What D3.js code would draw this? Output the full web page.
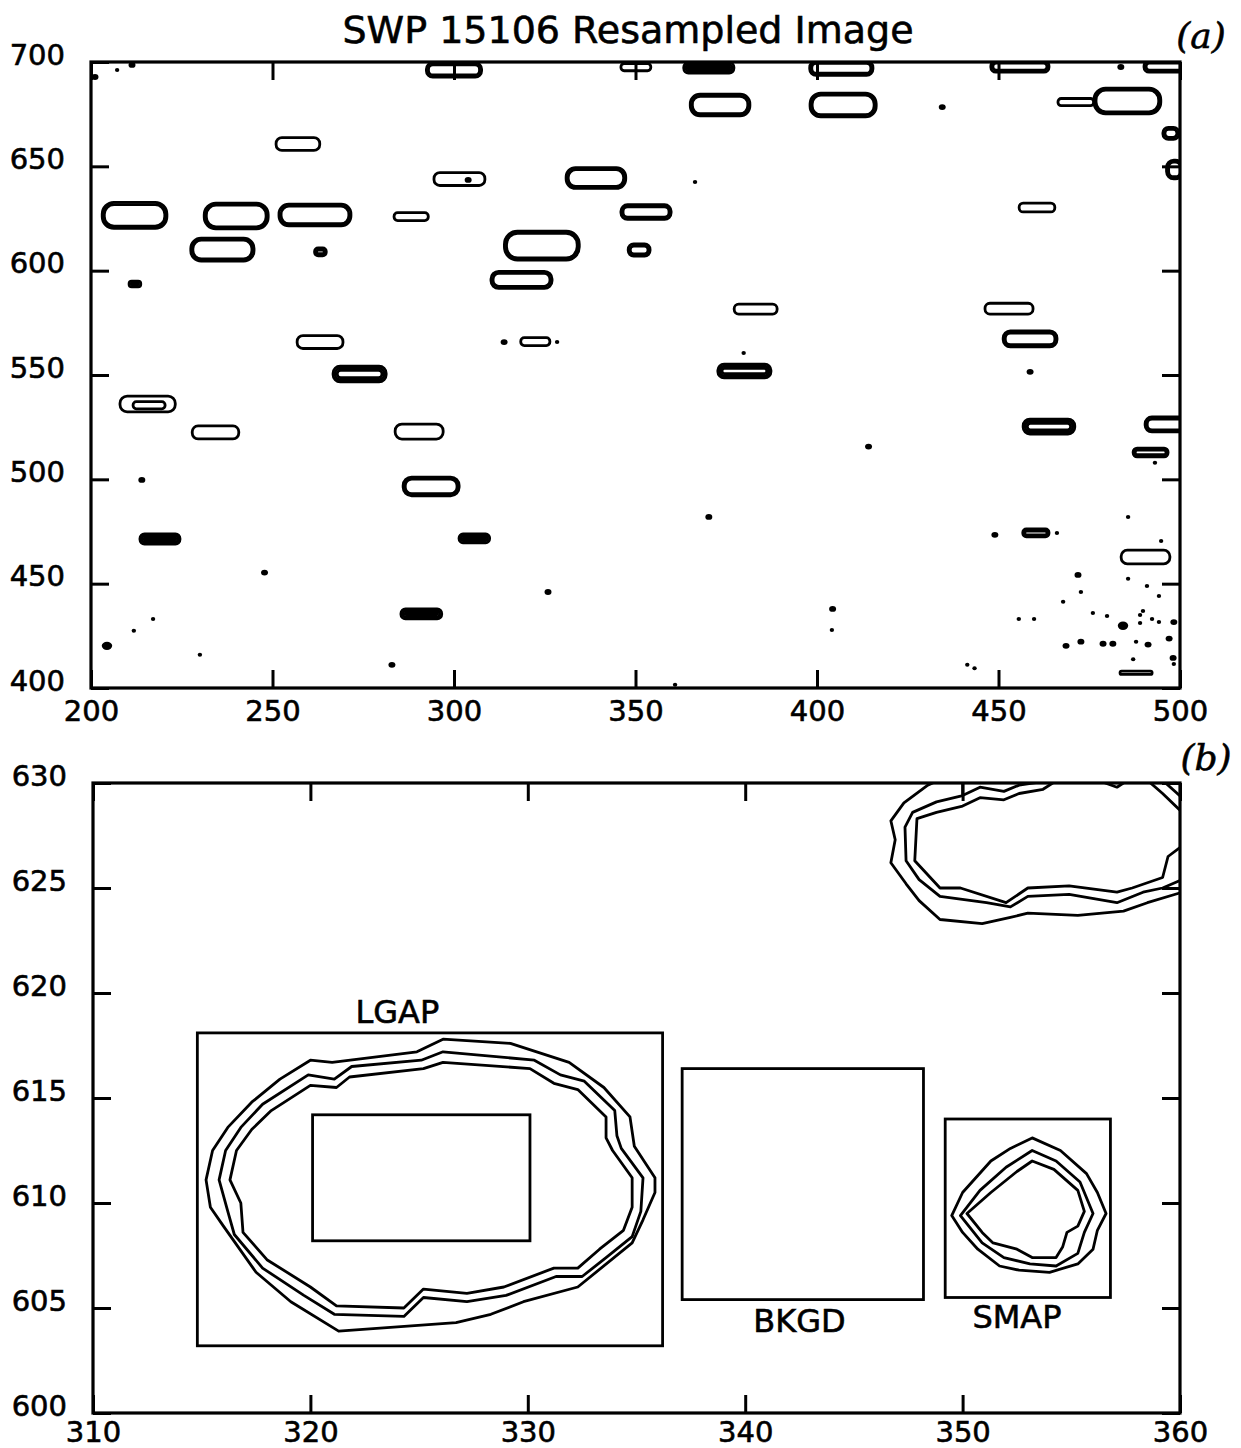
<!DOCTYPE html>
<html>
<head>
<meta charset="utf-8">
<script src="https://cdn.jsdelivr.net/npm/d3@7"></script>
<style>
  body { margin: 0; background: #fff; }
  svg text { font-family: "DejaVu Sans", sans-serif; fill: #000; stroke: #000; stroke-width: 0.6px; }
</style>
</head>
<body>
<svg id="chart" width="1241" height="1448"></svg>
<script>
// ---------- panel (a): resampled image, contour blobs ----------
const titleA = "SWP 15106 Resampled Image";
const xTicksA = [200, 250, 300, 350, 400, 450, 500];
const yTicksA = [400, 450, 500, 550, 600, 650, 700];

// [x, y, half-width, half-height, nested contour levels]
const rings = [
  [300.0, 696.2, 7.9, 3.9, 2], [350.1, 697.5, 4.4, 2.2, 1], [370.2, 697.2, 7.2, 3.0, 3],
  [406.7, 697.0, 9.0, 3.9, 2], [455.9, 697.8, 8.3, 3.2, 2], [497.5, 697.8, 7.7, 3.2, 2],
  [373.3, 679.4, 8.5, 5.7, 2], [407.2, 679.4, 9.4, 6.2, 2], [485.5, 681.3, 9.5, 6.7, 2],
  [471.3, 680.8, 5.2, 2.2, 1], [497.5, 665.8, 2.5, 3.4, 2], [498.5, 648.5, 2.5, 5.0, 2],
  [257.0, 660.7, 6.3, 3.6, 1], [301.5, 643.9, 7.3, 3.6, 1], [339.1, 644.4, 8.5, 5.5, 2],
  [212.0, 626.5, 9.2, 6.7, 2], [240.0, 626.2, 9.1, 6.7, 2], [261.7, 626.7, 10.2, 5.7, 2],
  [288.2, 625.9, 5.0, 2.4, 1], [352.9, 628.1, 7.2, 4.0, 2], [460.6, 630.3, 5.2, 2.6, 1],
  [236.2, 610.1, 9.0, 6.0, 2], [263.2, 609.0, 1.9, 2.4, 2], [324.2, 612.0, 10.6, 7.4, 2],
  [351.0, 609.9, 3.3, 3.4, 2], [212.1, 593.6, 1.9, 1.9, 2], [318.6, 595.6, 8.7, 4.6, 2],
  [383.1, 581.6, 6.2, 2.9, 1], [452.9, 581.8, 6.9, 3.1, 1], [263.1, 565.8, 6.6, 3.6, 1],
  [322.4, 566.0, 4.3, 2.4, 1], [458.7, 567.3, 7.7, 4.3, 2], [274.0, 550.5, 7.6, 4.3, 3],
  [380.0, 551.9, 7.6, 3.8, 3], [215.6, 536.1, 7.9, 4.3, 1], [216.0, 535.5, 4.7, 2.2, 1],
  [234.3, 522.5, 6.7, 3.6, 1], [290.4, 522.9, 6.9, 4.1, 1], [463.9, 525.3, 7.4, 4.1, 3],
  [496.7, 526.3, 6.6, 4.1, 2], [491.9, 512.9, 5.1, 2.6, 2], [293.7, 496.6, 8.0, 5.0, 2],
  [219.0, 471.4, 5.8, 2.9, 3], [305.6, 471.7, 4.5, 2.6, 3], [460.3, 474.3, 3.9, 2.4, 3],
  [490.5, 462.8, 7.0, 3.8, 1], [291.0, 435.5, 5.9, 2.9, 3], [487.9, 407.3, 4.7, 1.3, 3]
];

// [x, y, size class]
const dots = [
  [201.1, 692.8, 2], [207.2, 696.2, 1], [211.3, 698.6, 2], [483.7, 697.6, 2],
  [434.5, 678.4, 2], [366.4, 642.5, 1], [303.9, 643.5, 2], [313.8, 565.8, 2],
  [328.4, 565.8, 1], [379.8, 560.6, 1], [458.7, 551.5, 2], [414.2, 515.7, 2],
  [493.1, 507.9, 1], [214.0, 499.7, 2], [370.2, 482.0, 2], [449.0, 473.4, 2],
  [466.1, 474.3, 1], [247.8, 455.3, 2], [325.9, 446.0, 2], [404.3, 437.9, 2],
  [404.1, 427.8, 1], [204.4, 420.2, 3], [217.1, 433.1, 1], [211.8, 427.4, 1],
  [230.0, 415.9, 1], [282.9, 411.1, 2], [360.9, 401.5, 1], [441.4, 411.1, 1],
  [443.4, 409.5, 1], [471.9, 454.2, 2], [472.7, 446.0, 1], [467.8, 441.3, 1],
  [485.7, 482.0, 1], [494.8, 470.5, 1], [485.7, 452.3, 1], [490.9, 448.9, 1],
  [494.2, 444.1, 1], [476.0, 436.0, 1], [479.9, 434.5, 1], [455.6, 433.1, 1],
  [459.8, 433.1, 1], [489.8, 436.9, 1], [489.0, 435.0, 1], [484.3, 429.8, 3],
  [489.0, 431.2, 1], [492.3, 433.1, 1], [494.2, 431.6, 1], [498.3, 431.6, 2],
  [468.6, 420.2, 2], [472.7, 422.2, 2], [478.8, 421.2, 2], [481.5, 421.2, 2],
  [487.9, 422.2, 1], [491.2, 420.8, 2], [497.0, 423.7, 2], [487.1, 413.8, 1],
  [498.1, 414.4, 2], [498.3, 411.5, 1]
];

// ---------- panel (b): zoom on the apertures ----------
const xTicksB = [310, 320, 330, 340, 350, 360];
const yTicksB = [600, 605, 610, 615, 620, 625, 630];

// [x0, y0, x1, y1]: large aperture, its core, background, small aperture
const boxes = [
  [314.8, 603.2, 336.2, 618.1],
  [320.1, 608.2, 330.1, 614.2],
  [337.1, 605.4, 348.2, 616.4],
  [349.2, 605.5, 356.8, 614.0]
];
const labelNames = ["LGAP", "BKGD", "SMAP"];
const labelPos = [[324.0, 619.1], [342.5, 604.4], [352.5, 604.6]];

const lgapContours = [
  [[315.2, 611.1], [315.4, 609.8], [316.0, 608.9], [317.5, 606.7], [319.1, 605.3], [321.3, 603.9],
   [326.7, 604.3], [328.3, 604.7], [329.8, 605.3], [332.3, 606.0], [334.8, 608.1], [335.3, 609.2],
   [335.85, 610.5], [335.85, 611.2], [334.9, 612.7], [334.7, 614.1], [333.5, 615.5], [331.9, 616.7],
   [329.2, 617.6], [326.1, 617.8], [324.9, 617.2], [321.0, 616.7], [320.0, 616.8], [318.6, 615.9],
   [317.3, 614.8], [316.2, 613.6], [315.5, 612.5]],
  [[315.8, 611.1], [316.2, 609.6], [316.5, 608.5], [317.8, 606.9], [319.7, 605.6], [321.1, 604.7],
   [324.3, 604.6], [325.2, 605.5], [327.2, 605.3], [329.0, 605.6], [331.3, 606.5], [332.5, 606.5],
   [333.6, 607.4], [334.8, 608.4], [335.2, 609.6], [335.3, 611.2], [334.3, 612.6], [334.1, 613.2],
   [334.0, 614.4], [332.6, 615.8], [331.5, 616.1], [330.3, 616.8], [326.1, 617.2], [325.1, 616.8],
   [321.9, 616.5], [321.1, 615.9], [319.9, 616.1], [317.8, 614.7], [316.8, 613.6], [316.1, 612.5]],
  [[316.3, 611.1], [316.8, 610.0], [316.9, 608.6], [318.0, 607.3], [320.0, 606.0], [321.2, 605.1],
   [324.3, 605.0], [325.2, 605.9], [327.2, 605.7], [328.9, 606.0], [331.2, 606.9], [332.3, 606.9],
   [333.3, 607.8], [334.4, 608.7], [334.8, 609.8], [334.8, 611.2], [333.9, 612.5], [333.6, 613.1],
   [333.6, 614.1], [332.3, 615.4], [331.2, 615.7], [330.1, 616.4], [326.1, 616.7], [325.2, 616.4],
   [321.8, 616.0], [321.2, 615.5], [320.0, 615.6], [318.2, 614.4], [317.3, 613.5], [316.6, 612.5]]
];

const smapContours = [
  [[353.2, 613.1], [354.5, 612.5], [355.7, 611.4], [356.2, 610.5], [356.6, 609.5], [356.2, 608.7],
   [356.0, 607.8], [355.3, 607.1], [354.0, 606.7], [352.6, 606.8], [351.7, 607.0], [350.7, 607.8],
   [350.0, 608.6], [349.5, 609.4], [350.0, 610.5], [351.3, 612.0], [352.2, 612.6]],
  [[353.2, 612.5], [354.3, 612.0], [355.4, 611.0], [356.0, 609.5], [355.6, 608.6], [355.3, 607.6],
   [354.3, 607.0], [353.1, 607.1], [351.9, 607.4], [350.9, 608.1], [349.9, 609.4], [350.8, 610.6],
   [352.0, 611.7]],
  [[353.2, 612.0], [354.2, 611.6], [355.3, 610.6], [355.6, 609.6], [355.3, 608.9], [354.8, 608.6],
   [354.6, 607.9], [354.3, 607.4], [353.2, 607.4], [352.5, 607.8], [351.4, 608.1], [350.9, 608.6],
   [350.2, 609.5], [351.3, 610.5], [352.5, 611.5]]
];

// source cut by the upper right corner of the frame (open lines)
const cornerContours = [
  [[349.05, 630.2], [348.4, 629.9], [347.3, 629.05], [346.7, 628.2], [346.9, 627.3], [346.7, 626.2],
   [347.4, 625.2], [348.0, 624.4], [348.96, 623.5], [350.9, 623.3], [352.2, 623.6], [353.0, 623.8],
   [355.3, 623.7], [357.4, 623.9], [358.5, 624.3], [360.1, 624.8]],
  [[350.0, 630.1], [350.0, 629.4], [348.8, 629.1], [347.7, 628.6], [347.35, 627.9], [347.4, 626.3],
   [348.0, 625.4], [348.96, 624.6], [351.1, 624.3], [352.2, 624.1], [353.0, 624.6], [354.9, 624.7],
   [357.1, 624.3], [358.3, 624.8], [359.2, 625.0], [360.1, 625.4]],
  [[350.0, 629.4], [350.8, 629.8], [351.9, 629.6], [352.6, 629.9], [353.9, 630.1]],
  [[354.8, 630.4], [354.3, 630.1], [353.7, 629.7], [352.6, 629.5], [351.9, 629.2], [350.8, 629.3],
   [350.0, 628.9], [348.8, 628.6], [347.9, 628.3], [347.8, 626.3], [348.96, 625.0], [349.9, 625.0],
   [352.0, 624.3], [353.0, 625.0], [354.9, 625.1], [357.1, 624.8], [357.8, 625.0], [359.2, 625.5],
   [359.45, 626.5], [360.1, 627.0]],
  [[355.5, 630.4], [357.1, 629.8], [358.0, 630.4]],
  [[358.2, 630.4], [359.2, 629.5], [360.1, 628.6]],
  [[358.9, 630.4], [360.1, 629.3]]
];

// ---------- drawing ----------
const svg = d3.select("#chart");

const xA = d3.scaleLinear().domain([200, 500]).range([91, 1180]);
const yA = d3.scaleLinear().domain([400, 700]).range([688, 62]);
const xB = d3.scaleLinear().domain([310, 360]).range([93, 1180]);
const yB = d3.scaleLinear().domain([600, 630]).range([1413, 783]);

function drawAxes(g, x, y, xt, yt, padBottom) {
  const [x0, x1] = x.range();
  const [y0, y1] = y.range();
  const tick = 18;

  g.append("g").attr("transform", `translate(0,${y0})`)
      .call(d3.axisBottom(x).tickValues(xt).tickSize(-tick).tickPadding(padBottom))
      .call(a => a.select(".domain").remove());
  g.append("g").attr("transform", `translate(0,${y1})`)
      .call(d3.axisTop(x).tickValues(xt).tickSize(-tick).tickFormat(""))
      .call(a => a.select(".domain").remove());
  g.append("g").attr("transform", `translate(${x0},0)`)
      .call(d3.axisLeft(y).tickValues(yt).tickSize(-tick).tickPadding(26))
      .call(a => a.select(".domain").remove())
      .selectAll("text").attr("y", -7);
  g.append("g").attr("transform", `translate(${x1},0)`)
      .call(d3.axisRight(y).tickValues(yt).tickSize(-tick).tickFormat(""))
      .call(a => a.select(".domain").remove());

  g.selectAll(".tick line").attr("stroke", "#000").attr("stroke-width", 3);
  g.selectAll(".tick text")
      .attr("font-family", "DejaVu Sans, sans-serif")
      .attr("font-size", 29)
      .attr("fill", "#000");

  g.append("rect")
      .attr("x", x0).attr("y", y1)
      .attr("width", x1 - x0).attr("height", y0 - y1)
      .attr("fill", "none").attr("stroke", "#000").attr("stroke-width", 3.2);
}

// panel (a)
const gA = svg.append("g");
svg.append("clipPath").attr("id", "clipA").append("rect")
    .attr("x", xA(200)).attr("y", yA(700))
    .attr("width", xA(500) - xA(200)).attr("height", yA(400) - yA(700));

const marksA = gA.append("g").attr("clip-path", "url(#clipA)");
const inset = 2.1;

rings.forEach(([cx, cy, hx, hy, levels]) => {
  const left = xA(cx - hx), right = xA(cx + hx);
  const top = yA(cy + hy), bottom = yA(cy - hy);
  d3.range(levels).forEach(i => {
    const w = right - left - 2 * i * inset - inset;
    const h = bottom - top - 2 * i * inset - inset;
    if (w <= 0 || h <= 0) return;
    const r = Math.min(w, h) / 2 * 0.9;
    marksA.append("rect")
        .attr("x", left + i * inset + inset / 2)
        .attr("y", top + i * inset + inset / 2)
        .attr("width", w).attr("height", h)
        .attr("rx", r).attr("ry", r)
        .attr("fill", "none").attr("stroke", "#000").attr("stroke-width", 2.8);
  });
});

const dotR = { 1: [2.2, 2.0], 2: [3.5, 2.9], 3: [5.2, 4.2] };
marksA.selectAll("ellipse.dot")
  .data(dots)
  .enter().append("ellipse")
    .attr("class", "dot")
    .attr("cx", d => xA(d[0]))
    .attr("cy", d => yA(d[1]))
    .attr("rx", d => dotR[d[2]][0])
    .attr("ry", d => dotR[d[2]][1])
    .attr("fill", "#000");

drawAxes(gA, xA, yA, xTicksA, yTicksA, 12);

svg.append("text")
    .attr("x", 628).attr("y", 43)
    .attr("text-anchor", "middle")
    .attr("font-size", 38)
    .text(titleA);

svg.append("text")
    .attr("x", 1201).attr("y", 48)
    .attr("text-anchor", "middle")
    .attr("font-size", 36)
    .attr("font-style", "italic")
    .style("font-family", "DejaVu Serif, serif")
    .text("(a)");

// panel (b)
const gB = svg.append("g");
svg.append("clipPath").attr("id", "clipB").append("rect")
    .attr("x", xB(310)).attr("y", yB(630))
    .attr("width", xB(360) - xB(310)).attr("height", yB(600) - yB(630));
const marksB = gB.append("g").attr("clip-path", "url(#clipB)");

const lineB = d3.line().x(d => xB(d[0])).y(d => yB(d[1]));
const loopB = d3.line().x(d => xB(d[0])).y(d => yB(d[1])).curve(d3.curveLinearClosed);

marksB.selectAll("rect.box")
  .data(boxes)
  .enter().append("rect")
    .attr("class", "box")
    .attr("x", d => xB(d[0]))
    .attr("y", d => yB(d[3]))
    .attr("width", d => xB(d[2]) - xB(d[0]))
    .attr("height", d => yB(d[1]) - yB(d[3]))
    .attr("fill", "none").attr("stroke", "#000").attr("stroke-width", 2.8);

marksB.selectAll("path.loop")
  .data(lgapContours.concat(smapContours))
  .enter().append("path")
    .attr("class", "loop")
    .attr("d", loopB)
    .attr("fill", "none").attr("stroke", "#000").attr("stroke-width", 2.8)
    .attr("stroke-linejoin", "round");

marksB.selectAll("path.open")
  .data(cornerContours)
  .enter().append("path")
    .attr("class", "open")
    .attr("d", lineB)
    .attr("fill", "none").attr("stroke", "#000").attr("stroke-width", 2.8)
    .attr("stroke-linejoin", "round");

gB.selectAll("text.boxlabel")
  .data(labelNames)
  .enter().append("text")
    .attr("class", "boxlabel")
    .attr("x", (d, i) => xB(labelPos[i][0]))
    .attr("y", (d, i) => yB(labelPos[i][1]))
    .attr("dy", "0.36em")
    .attr("text-anchor", "middle")
    .attr("font-size", 32)
    .text(d => d);

drawAxes(gB, xB, yB, xTicksB, yTicksB, 8);

svg.append("text")
    .attr("x", 1206).attr("y", 770)
    .attr("text-anchor", "middle")
    .attr("font-size", 36)
    .attr("font-style", "italic")
    .style("font-family", "DejaVu Serif, serif")
    .text("(b)");
</script>
</body>
</html>
